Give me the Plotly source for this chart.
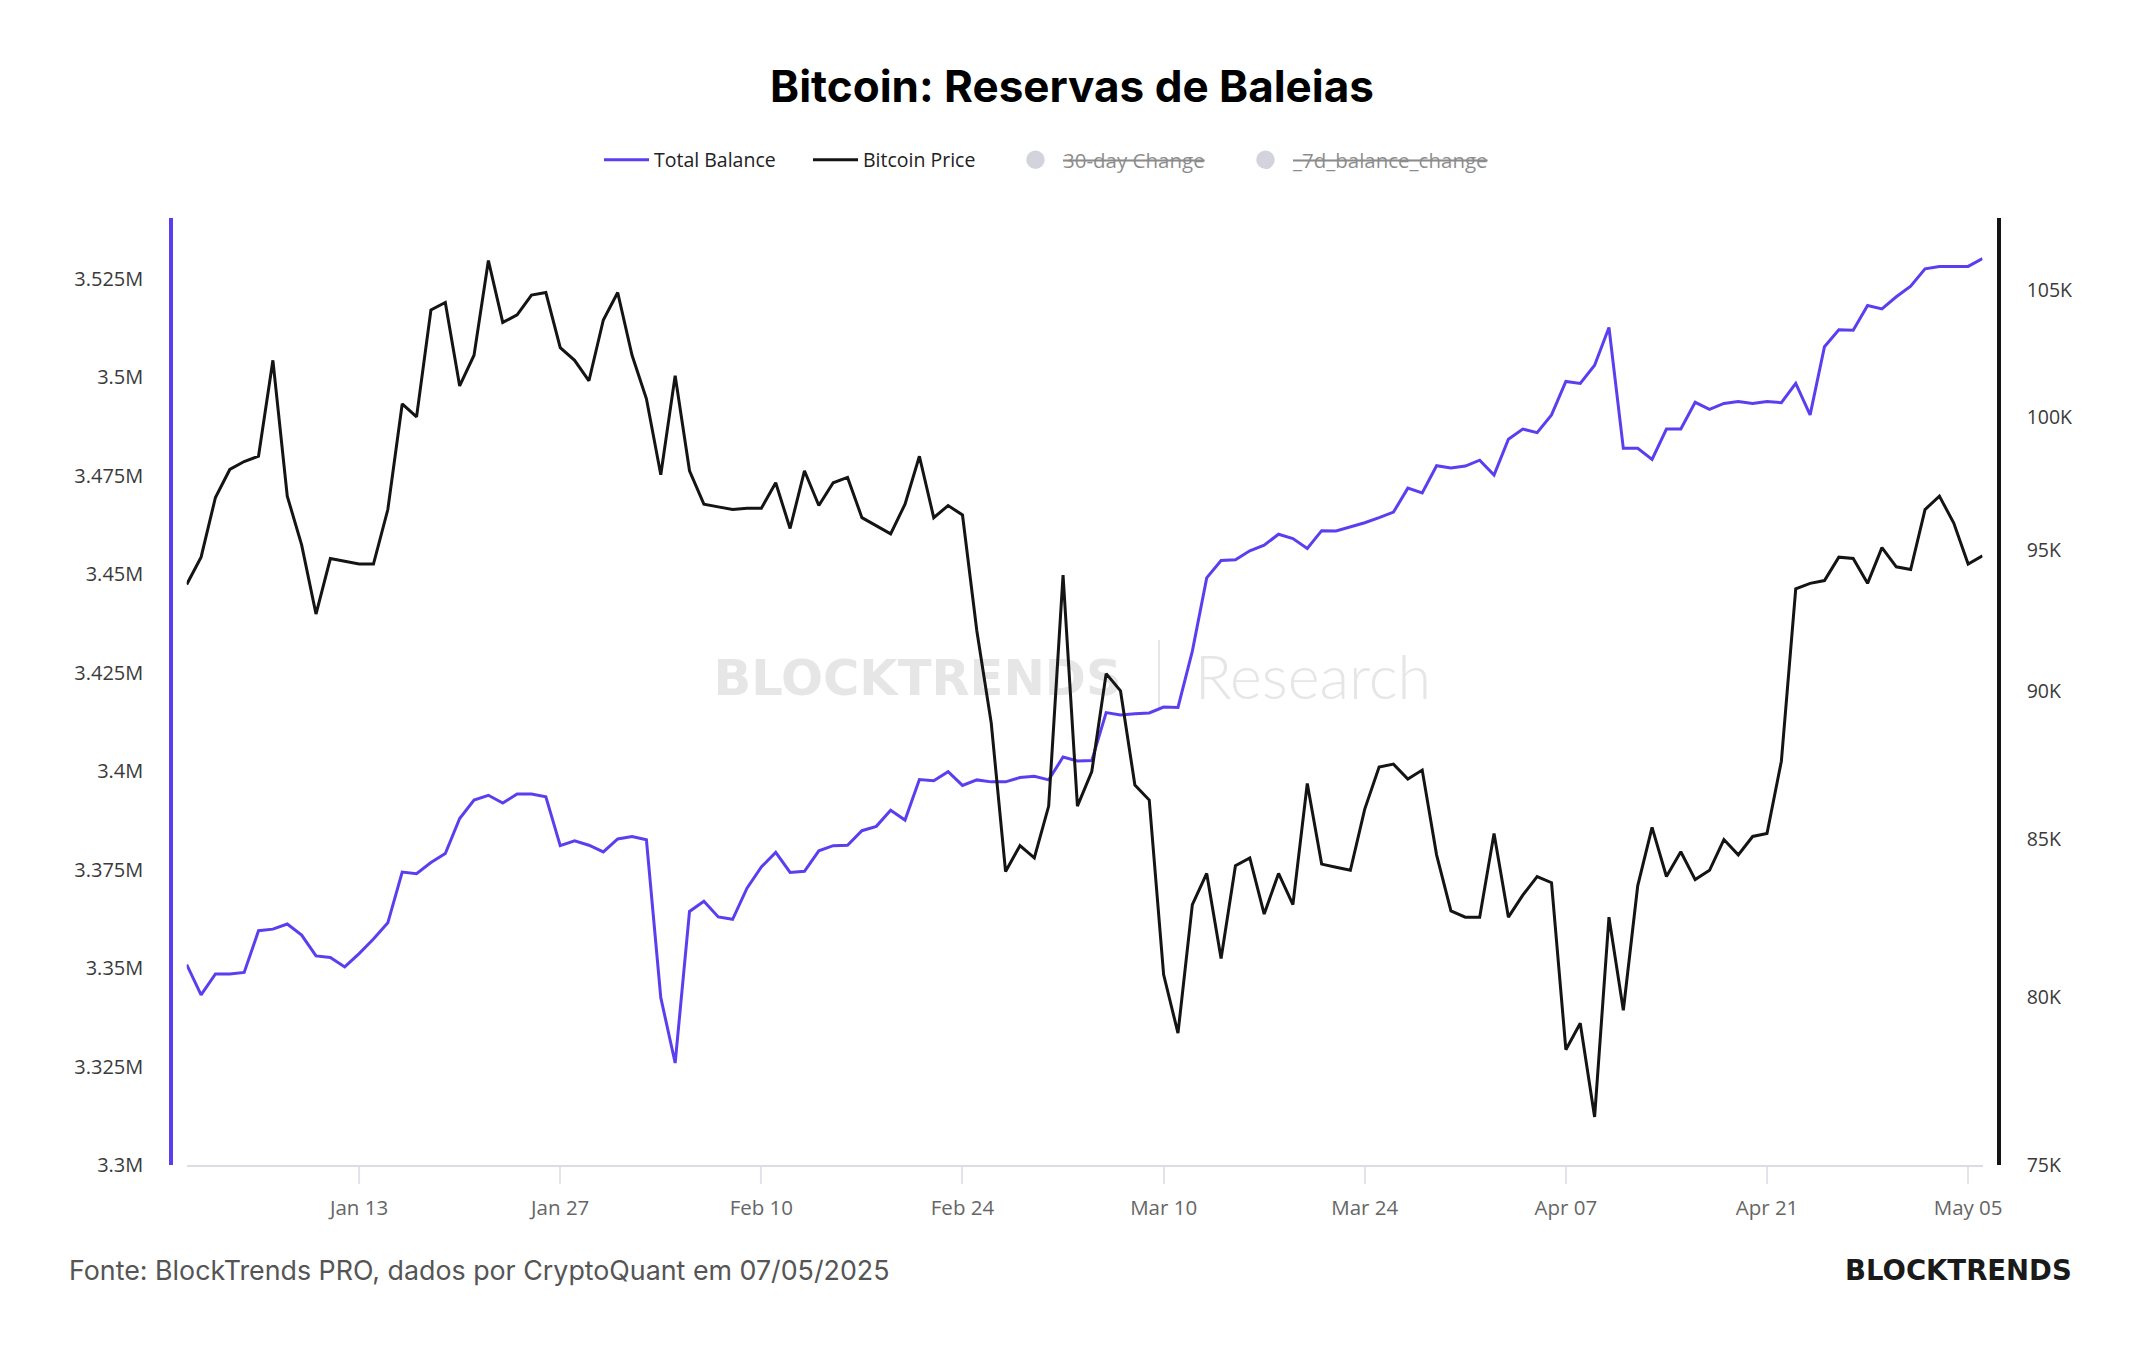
import math
import pandas as pd
import plotly.graph_objects as go

# ---------------- data ----------------
start_date = "2025-01-01"
n_days = 126
dates = pd.date_range(start_date, periods=n_days, freq="D")

total_balance_m = [
    3.3509, 3.3432, 3.3485, 3.3485, 3.3489, 3.3595, 3.3599, 3.3612, 3.3584, 3.3531,
    3.3527, 3.3503, 3.3537, 3.3574, 3.3615, 3.3744, 3.3740, 3.3768, 3.3791, 3.3880,
    3.3927, 3.3939, 3.3919, 3.3942, 3.3942, 3.3935, 3.3811, 3.3823, 3.3812, 3.3795,
    3.3828, 3.3834, 3.3826, 3.3425, 3.3259, 3.3644, 3.3670, 3.3630, 3.3624, 3.3703,
    3.3757, 3.3794, 3.3743, 3.3746, 3.3798, 3.3811, 3.3812, 3.3849, 3.3860, 3.3901,
    3.3876, 3.3979, 3.3976, 3.3999, 3.3964, 3.3978, 3.3973, 3.3973, 3.3984, 3.3987,
    3.3978, 3.4036, 3.4026, 3.4027, 3.4149, 3.4143, 3.4146, 3.4148, 3.4163, 3.4162,
    3.4305, 3.4491, 3.4535, 3.4537, 3.4560, 3.4574, 3.4602, 3.4591, 3.4566, 3.4611,
    3.4610, 3.4621, 3.4631, 3.4644, 3.4658, 3.4719, 3.4707, 3.4776, 3.4770, 3.4775,
    3.4790, 3.4752, 3.4843, 3.4869, 3.4860, 3.4905, 3.4990, 3.4985, 3.5031, 3.5127,
    3.4820, 3.4820, 3.4792, 3.4869, 3.4869, 3.4937, 3.4919, 3.4934, 3.4939, 3.4934,
    3.4939, 3.4936, 3.4985, 3.4905, 3.5078, 3.5121, 3.5120, 3.5183, 3.5174, 3.5205,
    3.5232, 3.5276, 3.5282, 3.5282, 3.5282, 3.5302,
]

bitcoin_price_k = [
    93.76, 94.75, 96.95, 98.0, 98.3, 98.5, 102.2, 97.0, 95.2, 92.7,
    94.7, 94.6, 94.5, 94.5, 96.5, 100.5, 100.0, 104.2, 104.5, 101.2,
    102.4, 106.2, 103.7, 104.0, 104.8, 104.9, 102.7, 102.2, 101.4, 103.8,
    104.9, 102.4, 100.7, 97.8, 101.6, 97.95, 96.7, 96.6, 96.5, 96.55,
    96.55, 97.5, 95.8, 97.95, 96.65, 97.5, 97.7, 96.2, 95.9, 95.6,
    96.7, 98.5, 96.2, 96.65, 96.3, 92.1, 88.9, 83.96, 84.8, 84.4,
    86.1, 94.1, 86.1, 87.25, 90.6, 90.0, 86.8, 86.3, 80.7, 78.9,
    82.9, 83.9, 81.2, 84.15, 84.4, 82.6, 83.9, 82.9, 86.85, 84.2,
    84.1, 84.0, 86.0, 87.4, 87.5, 87.0, 87.3, 84.5, 82.7, 82.5,
    82.5, 85.2, 82.5, 83.2, 83.8, 83.6, 78.4, 79.2, 76.4, 82.5,
    79.6, 83.5, 85.4, 83.8, 84.6, 83.7, 84.0, 85.0, 84.5, 85.1,
    85.2, 87.6, 93.6, 93.8, 93.9, 94.75, 94.7, 93.8, 95.1, 94.4,
    94.3, 96.5, 97.0, 96.0, 94.5, 94.8,
]

balance = [v * 1e6 for v in total_balance_m]
price = [v * 1e3 for v in bitcoin_price_k]

left_tickvals = [3.3e6, 3.325e6, 3.35e6, 3.375e6, 3.4e6, 3.425e6, 3.45e6, 3.475e6, 3.5e6, 3.525e6]
left_ticktext = ["3.3M", "3.325M", "3.35M", "3.375M", "3.4M", "3.425M", "3.45M", "3.475M", "3.5M", "3.525M"]
right_tickvals = [75000, 80000, 85000, 90000, 95000, 100000, 105000]
right_ticktext = ["75K", "80K", "85K", "90K", "95K", "100K", "105K"]
x_tickvals = ["2025-01-13", "2025-01-27", "2025-02-10", "2025-02-24", "2025-03-10",
              "2025-03-24", "2025-04-07", "2025-04-21", "2025-05-05"]
x_ticktext = ["Jan 13", "Jan 27", "Feb 10", "Feb 24", "Mar 10", "Mar 24", "Apr 07", "Apr 21", "May 05"]

left_range = [3.3e6, 3.5405e6]
right_range = [75000, 107950]

# ---------------- layout geometry (pixels) ----------------
W, H = 2144, 1350
ML, MR, MT, MB = 150, 130, 218, 185
X_LEFT, X_RIGHT = 186.7, 1982.5      # data extent
YAX_L, YAX_R = 171, 1999             # y axis line positions


def px(x):
    return (x - ML) / (W - ML - MR)


def py(y):
    return (H - MB - y) / (H - MT - MB)


PURPLE = "#5a3ff0"
BLACK = "#141414"
HIDDEN = "#a8a8bc"

fig = go.Figure()

fig.add_trace(go.Scatter(
    x=dates, y=balance, name="Total Balance", mode="lines",
    line=dict(color=PURPLE, width=3), yaxis="y", legend="legend",
))
fig.add_trace(go.Scatter(
    x=dates, y=price, name="Bitcoin Price", mode="lines",
    line=dict(color=BLACK, width=3), yaxis="y2", legend="legend2",
))
# hidden (legend-only) series
fig.add_trace(go.Scatter(
    x=[dates[0]], y=[None], name="<s>30-day Change</s>", mode="markers", visible="legendonly",
    marker=dict(color=HIDDEN, size=16, line=dict(color=HIDDEN, width=2.5)), legend="legend3",
))
fig.add_trace(go.Scatter(
    x=[dates[0]], y=[None], name="<s>_7d_balance_change</s>", mode="markers", visible="legendonly",
    marker=dict(color=HIDDEN, size=16, line=dict(color=HIDDEN, width=2.5)), legend="legend4",
))

legend_font = dict(family="Open Sans", size=19.5, color="#222222")
hidden_font = dict(family="Open Sans", size=20.5, color="#1a1a1a")
LEG_Y = py(160)
common_leg = dict(orientation="h", yanchor="middle", xanchor="left", y=LEG_Y,
                  bgcolor="rgba(0,0,0,0)", borderwidth=0, itemclick=False,
                  itemdoubleclick=False, itemwidth=45)

fig.update_layout(
    width=W, height=H,
    margin=dict(l=ML, r=MR, t=MT, b=MB, pad=0),
    paper_bgcolor="white", plot_bgcolor="rgba(0,0,0,0)",
    title=dict(text="Bitcoin: Reservas de Baleias", x=0.5, xref="container", xanchor="center",
               y=1 - 87 / H, yref="container", yanchor="middle",
               font=dict(family="Inter", size=44, color="#000000", weight=700)),
    legend=dict(common_leg, x=px(599), font=legend_font),
    legend2=dict(common_leg, x=px(808), font=legend_font),
    legend3=dict(common_leg, x=px(1008), font=hidden_font),
    legend4=dict(common_leg, x=px(1238), font=hidden_font),
    xaxis=dict(
        type="date", domain=[px(X_LEFT), px(X_RIGHT)],
        range=[dates[0], dates[-1]],
        tickvals=x_tickvals, ticktext=x_ticktext,
        showgrid=False, zeroline=False,
        showline=True, linecolor="#dcdce6", linewidth=2,
        ticks="outside", ticklen=17, tickwidth=1.5, tickcolor="#e3e3ea",
        ticklabelstandoff=6,
        tickfont=dict(family="Open Sans", size=20.5, color="#666666"),
    ),
    yaxis=dict(
        range=left_range, anchor="free", position=px(YAX_L), side="left",
        tickvals=left_tickvals, ticktext=left_ticktext,
        showgrid=False, zeroline=False,
        showline=True, linecolor=PURPLE, linewidth=3.5,
        ticks="", ticklabelstandoff=22,
        tickfont=dict(family="Open Sans", size=20, color="#3a3a3a"),
    ),
    yaxis2=dict(
        type="log", range=[math.log10(right_range[0]), math.log10(right_range[1])],
        overlaying="y", anchor="free", position=px(YAX_R), side="right",
        tickvals=right_tickvals, ticktext=right_ticktext,
        showgrid=False, zeroline=False,
        showline=True, linecolor=BLACK, linewidth=3.5,
        ticks="", ticklabelstandoff=22,
        tickfont=dict(family="Open Sans", size=19.5, color="#3a3a3a"),
    ),
    showlegend=True,
)

# watermark (drawn below the traces)
fig.add_shape(type="rect", xref="paper", yref="paper", layer="below",
              x0=px(700), x1=px(1135), y0=py(700), y1=py(648),
              line=dict(width=0), fillcolor="rgba(0,0,0,0)",
              label=dict(text="<b>BLOCKTRENDS</b>", textposition="middle center",
                         font=dict(family="DejaVu Sans", size=49.5, color="#e6e6e6")))
fig.add_shape(type="line", xref="paper", yref="paper", layer="below",
              x0=px(1159), x1=px(1159), y0=py(708), y1=py(640),
              line=dict(width=2, color="#e6e6e6"))
fig.add_shape(type="rect", xref="paper", yref="paper", layer="below",
              x0=px(1180), x1=px(1446), y0=py(700), y1=py(648),
              line=dict(width=0), fillcolor="rgba(0,0,0,0)",
              label=dict(text="Research", textposition="middle center",
                         font=dict(family="Lato", size=61, color="#e6e6e6", weight=300)))

# footer
fig.add_annotation(text="Fonte: BlockTrends PRO, dados por CryptoQuant em 07/05/2025",
                   xref="paper", yref="paper", x=px(67), y=py(1270),
                   xanchor="left", yanchor="middle", showarrow=False,
                   font=dict(family="Inter", size=26.8, color="#555555"))
fig.add_annotation(text="<b>BLOCKTRENDS</b>",
                   xref="paper", yref="paper", x=px(2074), y=py(1270),
                   xanchor="right", yanchor="middle", showarrow=False,
                   font=dict(family="DejaVu Sans", size=27.5, color="#1a1a1a"))

fig.write_html("out.html")
